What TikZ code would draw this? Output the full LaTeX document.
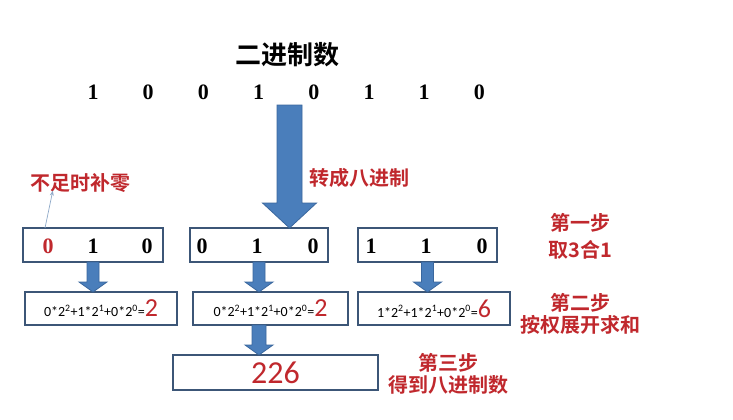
\documentclass[tikz,border=0pt]{standalone}
\usepackage{fontspec}
\setmainfont{Liberation Serif}
\newfontfamily\cjkfont{Noto Sans CJK SC}[BoldFont={Noto Sans CJK SC Bold}]
\newfontfamily\calfont{Carlito}
\usetikzlibrary{calc,arrows.meta}
\definecolor{stepred}{HTML}{C0282D}
\definecolor{boxedge}{HTML}{3C5677}
\definecolor{arrowfill}{HTML}{4A7EBB}
\definecolor{arrowedge}{HTML}{3A679E}
\definecolor{thinblue}{HTML}{8EA9C8}
\newcommand\blkarrow[5]{%
  \filldraw[blockarrow] let \p1=(#1), \p2=(#2) in
    (\x1-#3,\y1) -- (\x1+#3,\y1) -- (\x1+#3,\y2+#5) -- (\x1+#4,\y2+#5) --
    (\x1,\y2) -- (\x1-#4,\y2+#5) -- (\x1-#3,\y2+#5) -- cycle;}
\newcommand\formula[4]{{\calfont\fontsize{14}{14}\selectfont
  #1*2\textsuperscript{2}+#2*2\textsuperscript{1}+#3*2\textsuperscript{0}=\textcolor{stepred}{\fontsize{26}{26}\selectfont #4}}}
\begin{document}
\begin{tikzpicture}[x=1pt,y=-1pt,
  box/.style={draw=boxedge, line width=1.6pt, inner sep=0pt, outer sep=0pt},
  bin/.style={font=\bfseries\fontsize{22}{22}\selectfont, inner sep=0pt},
  title/.style={font=\cjkfont\bfseries\fontsize{26}{26}\selectfont},
  steplabel/.style={font=\cjkfont\bfseries\fontsize{20}{22}\selectfont, text=stepred, align=center, inner sep=0pt},
  blockarrow/.style={fill=arrowfill, draw=arrowedge, line width=0.8pt},
  thinarrow/.style={-{Stealth[length=5pt,width=4pt]}, draw=thinblue, line width=0.7pt}]
\useasboundingbox (0,0) rectangle (733,420);
\fill[white] (0,0) rectangle (733,420);

% title and binary digits
\node[title] (title) at (287,55) {二进制数};
\foreach \d [count=\i] in {1,0,0,1,0,1,1,0}{
  \pgfmathsetmacro\xx{93+55.2*(\i-1)}
  \node[bin] (b\i) at (\xx,92) {\d};
}

% group boxes (step 1)
\node[box, minimum width=140pt, minimum height=34pt] (g1) at (93,245) {};
\node[box, minimum width=138pt, minimum height=34pt] (g2) at (259,245) {};
\node[box, minimum width=139pt, minimum height=34pt] (g3) at (427.5,245) {};
\node[bin, text=stepred] (d11) at (48,246) {0};
\node[bin] (d12) at (93,246) {1};
\node[bin] (d13) at (147,246) {0};
\node[bin] (d21) at (202,246) {0};
\node[bin] (d22) at (257,246) {1};
\node[bin] (d23) at (313,246) {0};
\node[bin] (d31) at (371,246) {1};
\node[bin] (d32) at (426,246) {1};
\node[bin] (d33) at (482,246) {0};

% formula boxes (step 2)
\node[box, minimum width=152pt, minimum height=33pt] (r1) at (101,308.5) {\formula{0}{1}{0}{2}};
\node[box, minimum width=155pt, minimum height=33pt] (r2) at (270.5,308.5) {\formula{0}{1}{0}{2}};
\node[box, minimum width=152pt, minimum height=33pt] (r3) at (434,308.5) {\formula{1}{1}{0}{6}};

% result box (step 3)
\node[box, minimum width=205pt, minimum height=35pt, text=stepred,
      font=\calfont\fontsize{32}{32}\selectfont] (res) at (275.5,372.5) {226};

% labels
\node[steplabel] (pad) at (80,183) {不足时补零};
\node[steplabel] (conv) at (359,178) {转成八进制};
\node[steplabel] (s1) at (580,236.5) {第一步\\[5pt]取3合1};
\node[steplabel] (s2) at (580,314) {第二步\\按权展开求和};
\node[steplabel] (s3) at (448,374) {第三步\\得到八进制数};

% arrows
\coordinate (bigtop) at (289.5,105);
\blkarrow{bigtop}{bigtop |- g2.north}{12.5pt}{27pt}{25pt}
\blkarrow{g1.south}{g1.south |- r1.north}{6pt}{14pt}{10pt}
\blkarrow{g2.south}{g2.south |- r2.north}{6pt}{14pt}{10pt}
\blkarrow{g3.south}{g3.south |- r3.north}{6pt}{14pt}{10pt}
\blkarrow{g2.south |- r2.south}{g2.south |- res.north}{7pt}{14pt}{10pt}
\draw[thinarrow] ([xshift=-3pt]d11 |- g1.north) -- ([xshift=23pt,yshift=2pt]pad.south west);
\end{tikzpicture}
\end{document}
